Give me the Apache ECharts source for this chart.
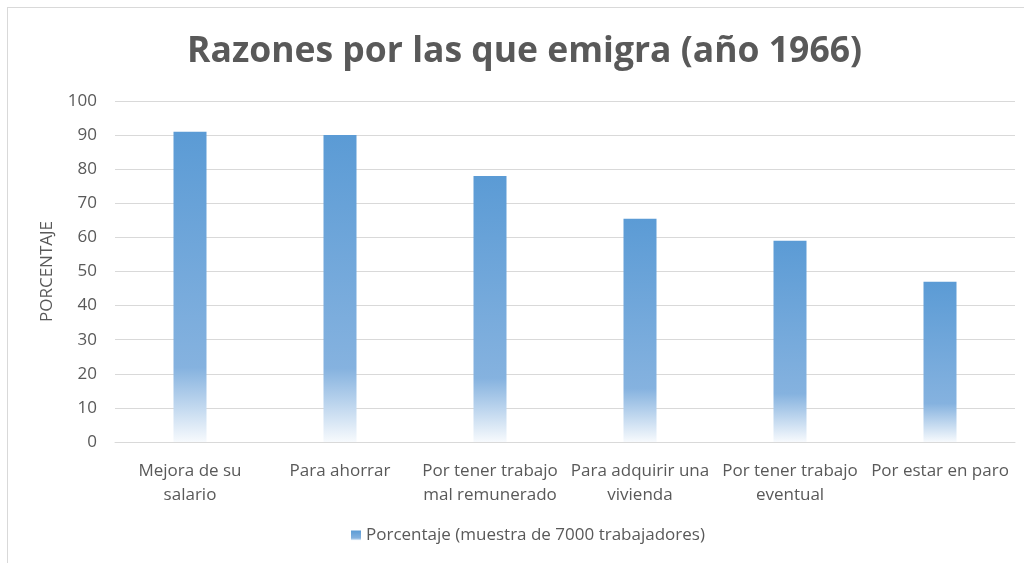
<!DOCTYPE html>
<html>
<head>
<meta charset="utf-8">
<script src="https://cdn.jsdelivr.net/npm/echarts@6/dist/echarts.min.js"></script>
<style>
  html, body { margin: 0; padding: 0; background: #fff; }
  #chart { width: 1024px; height: 563px; }
  .frame { position: absolute; left: 7px; top: 7px; width: 1040px; height: 600px; border: 1px solid #d9d9d9; pointer-events: none; }
</style>
</head>
<body>
<div id="chart"></div>
<div class="frame"></div>
<script>
const categories = [
  'Mejora de su\nsalario',
  'Para ahorrar',
  'Por tener trabajo\nmal remunerado',
  'Para adquirir una\nvivienda',
  'Por tener trabajo\neventual',
  'Por estar en paro'
]
const porcentaje = [91, 90, 78, 65.5, 59, 47]
const seriesName = 'Porcentaje (muestra de 7000 trabajadores)'

const textColor = '#595959'
const fontFamily = '"Open Sans", "Liberation Sans", sans-serif'

const barColor = new echarts.graphic.LinearGradient(0, 0, 0, 1, [
  { offset: 0, color: '#5b9bd5' },
  { offset: 0.76, color: '#85b2df' },
  { offset: 1, color: '#f7fafd' }
])

const myChart = echarts.init(document.getElementById('chart'))

const options = {
  animation: false,
  title: {
    text: 'Razones por las que emigra (año 1966)',
    left: 182,
    top: 29,
    textStyle: {
      fontFamily: fontFamily,
      fontSize: 35.5,
      fontWeight: 'bold',
      color: textColor
    }
  },
  legend: {
    bottom: 14,
    left: 346,
    itemWidth: 10,
    itemHeight: 10,
    itemGap: 6,
    icon: 'rect',
    textStyle: { fontFamily: fontFamily, fontSize: 17, color: textColor },
    data: [seriesName]
  },
  grid: {
    left: 115,
    right: 9,
    top: 101,
    bottom: 121
  },
  xAxis: {
    type: 'category',
    data: categories,
    axisLine: { lineStyle: { color: '#d9d9d9', width: 1 } },
    axisTick: { show: false },
    axisLabel: {
      interval: 0,
      margin: 17,
      fontFamily: fontFamily,
      fontSize: 17,
      lineHeight: 24,
      color: textColor
    }
  },
  yAxis: {
    type: 'value',
    min: 0,
    max: 100,
    interval: 10,
    name: 'PORCENTAJE',
    nameLocation: 'middle',
    nameGap: 59,
    nameTextStyle: { fontFamily: fontFamily, fontSize: 17, color: textColor },
    axisLine: { show: false },
    axisTick: { show: false },
    axisLabel: { fontFamily: fontFamily, fontSize: 17, color: textColor, margin: 18 },
    splitLine: { lineStyle: { color: '#d9d9d9', width: 1 } }
  },
  series: [
    {
      name: seriesName,
      type: 'bar',
      barWidth: 33,
      data: porcentaje,
      itemStyle: { color: barColor }
    }
  ]
}

myChart.setOption(options)
</script>
</body>
</html>
